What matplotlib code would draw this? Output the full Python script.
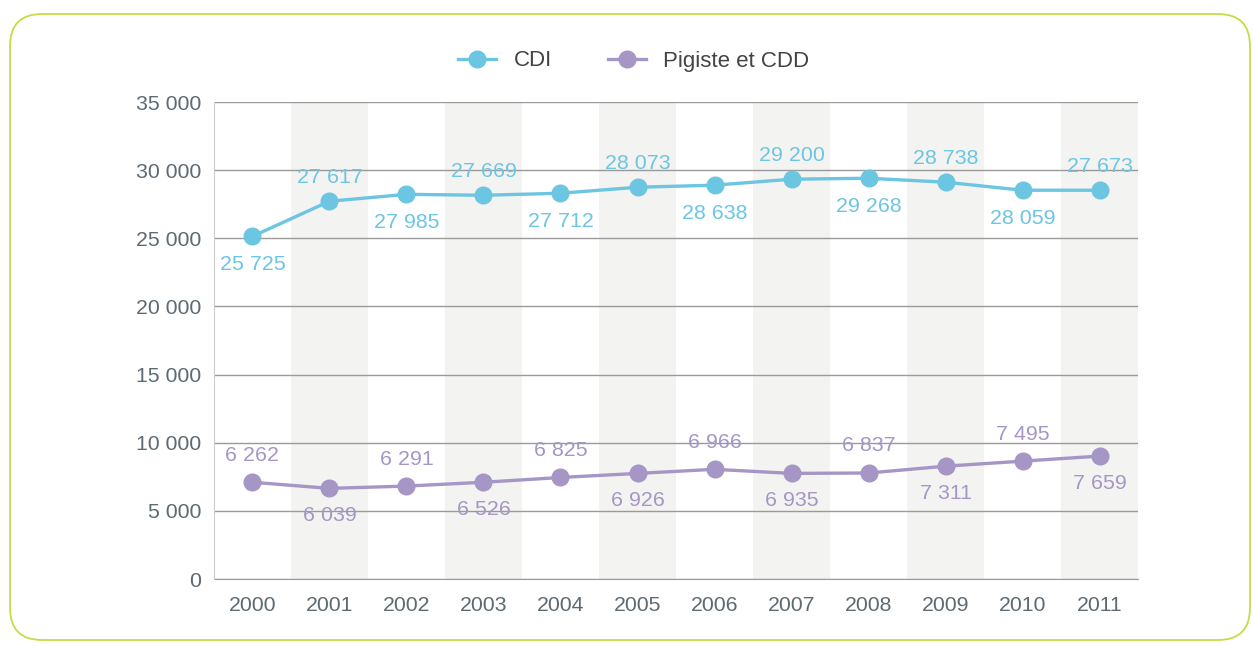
import matplotlib.pyplot as plt
from matplotlib.patches import FancyBboxPatch

plt.rcParams['font.family'] = ['Liberation Sans', 'DejaVu Sans']

# -------------------------
#  DATA
# -------------------------
years = ['2000', '2001', '2002', '2003', '2004', '2005',
         '2006', '2007', '2008', '2009', '2010', '2011']

# marker heights as drawn in the picture
cdi_values = [25150, 27720, 28230, 28160, 28310, 28750,
              28900, 29340, 29410, 29120, 28530, 28530]
pigiste_values = [7100, 6650, 6820, 7100, 7450, 7750,
                  8050, 7750, 7780, 8280, 8650, 9020]

# printed data labels
cdi_labels = ['25 725', '27 617', '27 985', '27 669', '27 712', '28 073',
              '28 638', '29 200', '29 268', '28 738', '28 059', '27 673']
pigiste_labels = ['6 262', '6 039', '6 291', '6 526', '6 825', '6 926',
                  '6 966', '6 935', '6 837', '7 311', '7 495', '7 659']

y_ticks = [0, 5000, 10000, 15000, 20000, 25000, 30000, 35000]

CDI_COLOR = '#6cc6e2'
PIG_COLOR = '#a596c6'
TICK_COLOR = '#5e6a72'

# -------------------------
#  FIGURE
# -------------------------
fig = plt.figure(figsize=(12.55, 6.46), dpi=100)

# rounded green frame
frame = FancyBboxPatch((0.10, 0.06), 12.40, 6.26,
                       boxstyle='round,pad=0,rounding_size=0.32',
                       transform=fig.dpi_scale_trans,
                       facecolor='none', edgecolor='#c6dc45', linewidth=1.3,
                       zorder=-10)
fig.patches.append(frame)

ax = fig.add_axes([0.1705, 0.1037, 0.7363, 0.7383])
ax.set_facecolor('none')

x = list(range(len(years)))

# shaded bands on every other year
for i in x:
    if i % 2 == 1:
        ax.axvspan(i - 0.5, i + 0.5, color='#f3f3f1', zorder=0, lw=0)

for t in y_ticks:
    ax.axhline(t, color='#9a9a9a', lw=1.0, zorder=1)

ax.plot(x, cdi_values, color=CDI_COLOR, lw=2.4, marker='o', markersize=12,
        label='CDI', zorder=3)
ax.plot(x, pigiste_values, color=PIG_COLOR, lw=2.4, marker='o', markersize=12,
        label='Pigiste et CDD', zorder=3)

# alternate labels above / below the points
for i in x:
    cdi_off = 24 if i % 2 == 1 else -28
    pig_off = 27 if i % 2 == 0 else -27
    ax.annotate(cdi_labels[i], (x[i], cdi_values[i]), xytext=(0, cdi_off),
                textcoords='offset pixels', ha='center', va='center',
                color=CDI_COLOR, fontsize=15.4, zorder=4)
    ax.annotate(pigiste_labels[i], (x[i], pigiste_values[i]), xytext=(0, pig_off),
                textcoords='offset pixels', ha='center', va='center',
                color=PIG_COLOR, fontsize=15.4, zorder=4)

ax.set_xlim(-0.5, len(years) - 0.5)
ax.set_ylim(0, 35000)
ax.set_xticks(x)
ax.set_xticklabels(years)
ax.set_yticks(y_ticks)
ax.set_yticklabels([f'{t:,}'.replace(',', ' ') for t in y_ticks])
ax.tick_params(axis='both', length=0, labelsize=15.3, colors=TICK_COLOR)
ax.tick_params(axis='y', pad=9)
ax.tick_params(axis='x', pad=12)

for side in ['top', 'right']:
    ax.spines[side].set_visible(False)
ax.spines['left'].set_color('#cccccc')
ax.spines['bottom'].set_color('#9a9a9a')
ax.spines['bottom'].set_zorder(2)

leg = fig.legend(loc='center', bbox_to_anchor=(634 / 1255, 1 - 61 / 646),
                 ncol=2, frameon=False, fontsize=16, handlelength=1.7,
                 handletextpad=0.8, columnspacing=2.5)
for text in leg.get_texts():
    text.set_color('#444444')

fig.savefig('out.png', dpi=100)
